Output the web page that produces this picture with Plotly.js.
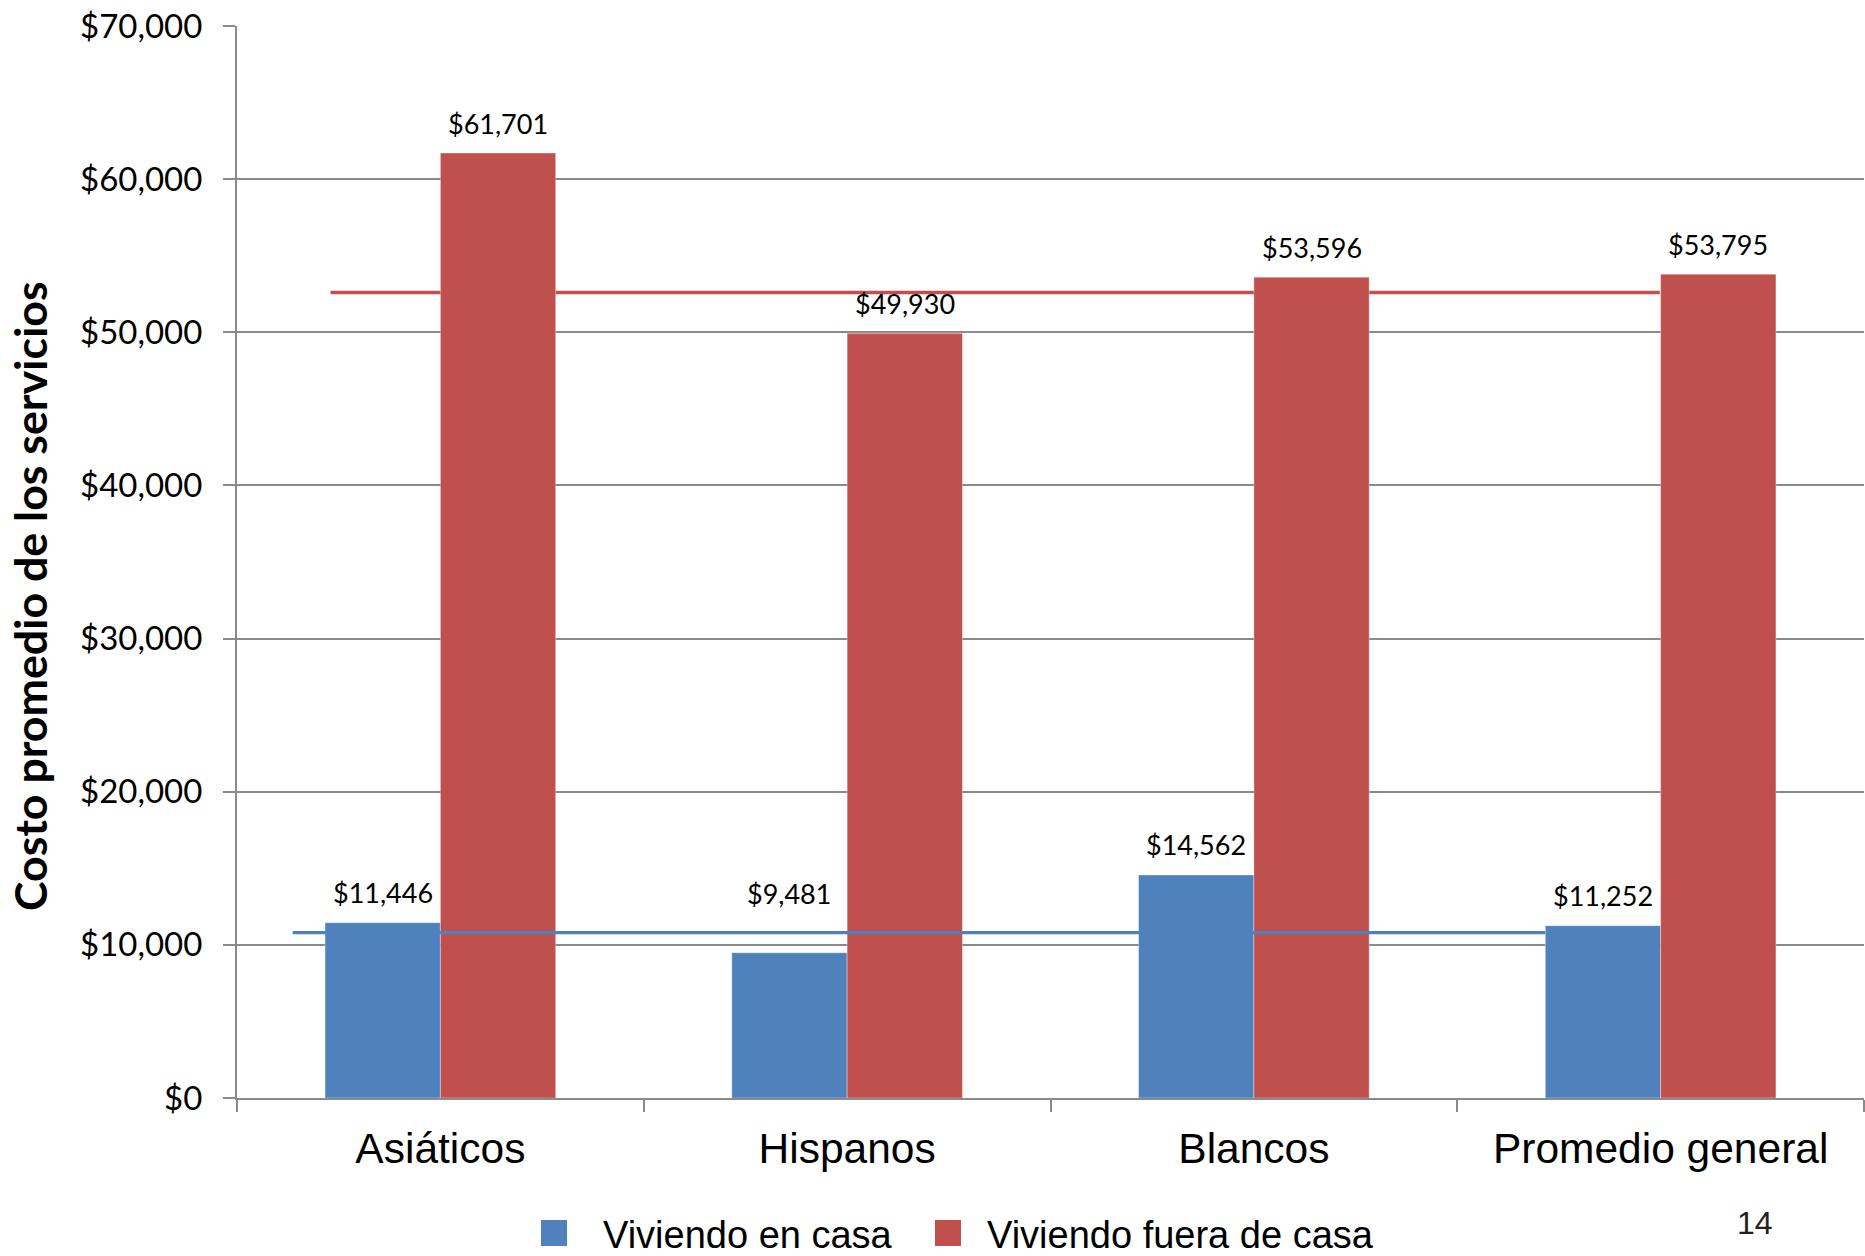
<!DOCTYPE html>
<html>
<head>
<meta charset="utf-8">
<script src="https://cdn.plot.ly/plotly-3.0.1.min.js"></script>
<style>
  html, body { margin: 0; padding: 0; background: #ffffff; }
  #chart { width: 1865px; height: 1256px; }
</style>
</head>
<body>
<div id="chart"></div>
<script>
// ---- data ----
const categories = ["Asiáticos", "Hispanos", "Blancos", "Promedio general"];
const enCasa = [11446, 9481, 14562, 11252];
const fueraCasa = [61701, 49930, 53596, 53795];
const seriesNames = ["Viviendo en casa", "Viviendo fuera de casa"];
const refLineEnCasa = 10800;
const refLineFuera = 52600;
const yTickVals = [0, 10000, 20000, 30000, 40000, 50000, 60000, 70000];
const yTickText = ["$0", "$10,000", "$20,000", "$30,000", "$40,000", "$50,000", "$60,000", "$70,000"];
const yTitle = "Costo promedio de los servicios";
const pageNumber = "14";

// ---- style ----
const BLUE = "#4F81BD";
const RED = "#C0504D";
const GRID = "#8a8a8a";
const colors = [BLUE, RED];
const bargap = 0.433;
const barW = (1 - bargap) / 2;
const labelShiftEnCasa = [30, 59, 30, 30];   // pixel offsets of the value labels
const labelShiftFuera = [30, 30, 30, 30];
const W = 1865, H = 1256;
const M = { l: 237, r: 1, t: 26, b: 158 };
const pw = W - M.l - M.r, ph = H - M.t - M.b;
function px(x) { return (x - M.l) / pw; }
function py(y) { return (H - M.b - y) / ph; }

function fmt(v) { return "$" + v.toLocaleString("en-US"); }

const traces = [
  {
    type: "bar", name: seriesNames[0], x: categories, y: enCasa,
    marker: { color: colors[0], line: { color: "rgba(255,255,255,0.35)", width: 1 } },
    hoverinfo: "skip"
  },
  {
    type: "bar", name: seriesNames[1], x: categories, y: fueraCasa,
    marker: { color: colors[1], line: { color: "rgba(255,255,255,0.35)", width: 1 } },
    hoverinfo: "skip"
  }
];

const annotations = [];
const labelFont = { family: "Lato, 'Open Sans', sans-serif", size: 27, color: "#000" };
categories.forEach((c, i) => {
  annotations.push({ xref: "x", yref: "y", x: i - barW / 2, y: enCasa[i], text: fmt(enCasa[i]),
    showarrow: false, yanchor: "middle", yshift: labelShiftEnCasa[i], font: labelFont });
  annotations.push({ xref: "x", yref: "y", x: i + barW / 2, y: fueraCasa[i], text: fmt(fueraCasa[i]),
    showarrow: false, yanchor: "middle", yshift: labelShiftFuera[i], font: labelFont });
});
annotations.push({
  xref: "paper", yref: "paper", x: px(30), y: py(596), text: "<b>" + yTitle + "</b>",
  textangle: -90, showarrow: false, xanchor: "center", yanchor: "middle",
  font: { family: "Lato, 'Open Sans', sans-serif", size: 44.7, color: "#000" }
});
annotations.push({
  xref: "paper", yref: "paper", x: px(1755), y: py(1223), text: pageNumber,
  showarrow: false, xanchor: "center", yanchor: "middle",
  font: { family: "'Liberation Sans', Arial, sans-serif", size: 32, color: "#222" }
});

// legend (drawn as shapes + text)
const legendFont = { family: "'Liberation Sans', Arial, sans-serif", size: 38, color: "#000" };
const legendSq = [541, 935];
const legendTx = [601, 985];
const legendY = 1233;
const shapes = [];
seriesNames.forEach((n, k) => {
  shapes.push({ type: "rect", xref: "paper", yref: "paper",
    x0: px(legendSq[k]), x1: px(legendSq[k] + 26), y0: py(legendY - 13), y1: py(legendY + 13),
    fillcolor: colors[k], line: { width: 0 } });
  annotations.push({ xref: "paper", yref: "paper", x: px(legendTx[k]), y: py(legendY + 2), text: n,
    showarrow: false, xanchor: "left", yanchor: "middle", font: legendFont });
});

shapes.push(
  { type: "line", xref: "x", yref: "y", x0: -0.27, x1: 3 - 0.002, y0: refLineFuera, y1: refLineFuera,
    line: { color: RED, width: 3.4 }, layer: "between" },
  { type: "line", xref: "x", yref: "y", x0: -0.363, x1: 3 - barW, y0: refLineEnCasa, y1: refLineEnCasa,
    line: { color: BLUE, width: 3.4 }, layer: "above" }
);

const layout = {
  width: W, height: H,
  margin: { l: M.l, r: M.r, t: M.t, b: M.b, autoexpand: false },
  paper_bgcolor: "#ffffff", plot_bgcolor: "#ffffff",
  barmode: "group", bargap: bargap, bargroupgap: 0,
  showlegend: false,
  xaxis: {
    type: "category", range: [-0.5, 3.5],
    showline: true, linecolor: GRID, linewidth: 2,
    ticks: "outside", tickson: "boundaries", ticklen: 12, tickwidth: 2, tickcolor: GRID,
    showgrid: false, ticklabelstandoff: 12,
    tickfont: { family: "'Liberation Sans', Arial, sans-serif", size: 42.5, color: "#000" }
  },
  yaxis: {
    range: [0, 70000], tickvals: yTickVals, ticktext: yTickText,
    showline: true, linecolor: GRID, linewidth: 2,
    showgrid: true, gridcolor: GRID, gridwidth: 2, zeroline: false,
    ticks: "outside", ticklen: 12, tickwidth: 2, tickcolor: GRID, ticklabelstandoff: 14,
    tickfont: { family: "Lato, 'Open Sans', sans-serif", size: 33, color: "#000" }
  },
  annotations: annotations,
  shapes: shapes
};

Plotly.newPlot("chart", traces, layout, { staticPlot: true });
</script>
</body>
</html>
